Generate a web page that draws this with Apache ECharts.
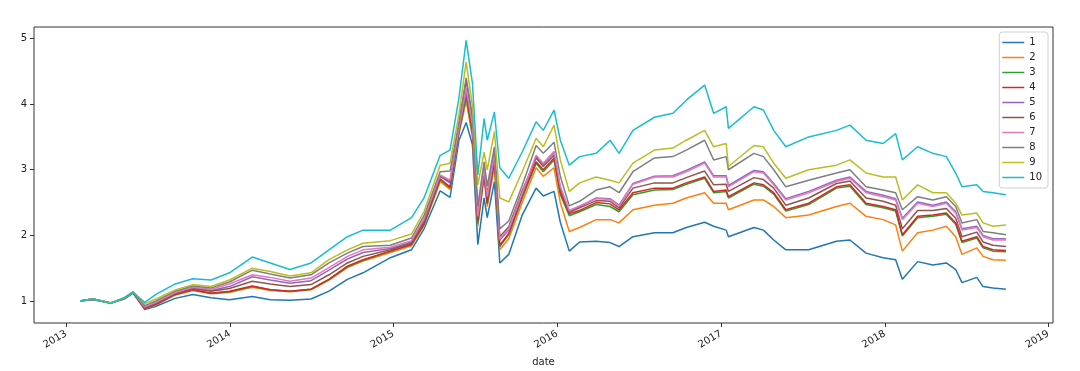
<!DOCTYPE html>
<html>
<head>
<meta charset="utf-8">
<script src="https://cdn.jsdelivr.net/npm/echarts@6/dist/echarts.min.js"></script>
<style>
  html, body { margin: 0; padding: 0; background: #fff; }
  #chart { width: 1080px; height: 371px; }
</style>
</head>
<body>
<div id="chart"></div>
<script>
const dates = [
  "2013-02-01", "2013-03-01", "2013-04-10", "2013-05-10", "2013-05-30", "2013-06-25", "2013-07-20",
  "2013-09-01", "2013-10-10", "2013-11-20", "2013-12-31", "2014-02-20", "2014-04-01", "2014-05-15",
  "2014-07-01", "2014-08-10", "2014-09-20", "2014-10-25", "2014-12-25", "2015-02-10", "2015-03-10",
  "2015-04-15", "2015-05-07", "2015-05-27", "2015-06-12", "2015-06-26", "2015-07-08", "2015-07-22",
  "2015-07-29", "2015-08-14", "2015-08-26", "2015-09-15", "2015-10-15", "2015-11-15", "2015-12-01",
  "2015-12-25", "2016-01-08", "2016-01-28", "2016-02-20", "2016-03-28", "2016-04-28", "2016-05-18",
  "2016-06-18", "2016-08-05", "2016-09-15", "2016-10-15", "2016-11-25", "2016-12-15", "2017-01-12",
  "2017-01-17", "2017-03-15", "2017-04-05", "2017-04-28", "2017-05-25", "2017-07-15", "2017-09-15",
  "2017-10-15", "2017-11-20", "2017-12-28", "2018-01-25", "2018-02-09", "2018-03-15", "2018-04-18",
  "2018-05-18", "2018-06-08", "2018-06-22", "2018-07-25", "2018-08-08", "2018-08-30", "2018-09-28",
];

const s1 = [1, 1.02, 0.97, 1.03, 1.12, 0.87, 0.92, 1.04, 1.10, 1.05, 1.02, 1.07, 1.02, 1.01, 1.03, 1.15, 1.33, 1.43, 1.66, 1.78, 2.10, 2.68, 2.58, 3.45, 3.72, 3.38, 1.86, 2.57, 2.27, 2.82, 1.58, 1.71, 2.31, 2.72, 2.60, 2.67, 2.20, 1.76, 1.90, 1.91, 1.89, 1.83, 1.98, 2.04, 2.04, 2.12, 2.20, 2.14, 2.08, 1.98, 2.12, 2.08, 1.93, 1.78, 1.78, 1.91, 1.93, 1.73, 1.66, 1.63, 1.33, 1.60, 1.55, 1.58, 1.48, 1.28, 1.36, 1.22, 1.20, 1.18];
const s2 = [1, 1.03, 0.97, 1.03, 1.13, 0.89, 0.94, 1.09, 1.16, 1.11, 1.13, 1.21, 1.16, 1.14, 1.17, 1.32, 1.51, 1.61, 1.74, 1.84, 2.15, 2.82, 2.70, 3.55, 4.05, 3.50, 2.14, 2.88, 2.44, 3.05, 1.78, 1.95, 2.50, 3.03, 2.90, 3.03, 2.50, 2.06, 2.12, 2.24, 2.24, 2.19, 2.39, 2.46, 2.49, 2.57, 2.65, 2.49, 2.49, 2.39, 2.54, 2.54, 2.44, 2.27, 2.31, 2.44, 2.49, 2.29, 2.24, 2.16, 1.76, 2.04, 2.08, 2.14, 1.98, 1.71, 1.81, 1.68, 1.63, 1.62];
const s3 = [1, 1.03, 0.97, 1.04, 1.13, 0.89, 0.95, 1.10, 1.17, 1.12, 1.14, 1.22, 1.17, 1.15, 1.18, 1.33, 1.52, 1.62, 1.76, 1.86, 2.17, 2.85, 2.72, 3.58, 4.10, 3.55, 2.18, 2.92, 2.48, 3.12, 1.83, 2.01, 2.57, 3.10, 2.97, 3.15, 2.62, 2.30, 2.36, 2.47, 2.44, 2.36, 2.62, 2.69, 2.70, 2.78, 2.87, 2.65, 2.67, 2.57, 2.78, 2.75, 2.63, 2.37, 2.47, 2.72, 2.75, 2.47, 2.42, 2.37, 1.99, 2.27, 2.29, 2.32, 2.17, 1.89, 1.96, 1.81, 1.76, 1.75];
const s4 = [1, 1.03, 0.97, 1.04, 1.13, 0.89, 0.95, 1.10, 1.17, 1.12, 1.15, 1.23, 1.17, 1.15, 1.18, 1.33, 1.53, 1.63, 1.76, 1.86, 2.18, 2.86, 2.74, 3.60, 4.18, 3.60, 2.22, 2.95, 2.50, 3.15, 1.85, 2.03, 2.60, 3.12, 3.00, 3.18, 2.65, 2.33, 2.38, 2.50, 2.48, 2.39, 2.65, 2.72, 2.72, 2.80, 2.89, 2.67, 2.69, 2.59, 2.80, 2.77, 2.65, 2.39, 2.49, 2.74, 2.77, 2.49, 2.44, 2.39, 2.01, 2.29, 2.31, 2.34, 2.19, 1.91, 1.98, 1.83, 1.78, 1.77];
const s5 = [1, 1.03, 0.97, 1.04, 1.14, 0.90, 0.97, 1.12, 1.20, 1.16, 1.22, 1.37, 1.32, 1.27, 1.31, 1.47, 1.64, 1.74, 1.80, 1.90, 2.23, 2.90, 2.80, 3.63, 4.20, 3.68, 2.28, 3.00, 2.58, 3.22, 1.93, 2.08, 2.64, 3.20, 3.08, 3.26, 2.73, 2.37, 2.44, 2.57, 2.56, 2.46, 2.79, 2.90, 2.91, 2.99, 3.12, 2.91, 2.91, 2.76, 2.99, 2.97, 2.79, 2.56, 2.67, 2.84, 2.89, 2.67, 2.61, 2.56, 2.26, 2.51, 2.46, 2.51, 2.36, 2.10, 2.14, 2.00, 1.95, 1.95];
const s6 = [1, 1.03, 0.97, 1.04, 1.13, 0.90, 0.97, 1.12, 1.19, 1.15, 1.19, 1.30, 1.26, 1.22, 1.25, 1.40, 1.58, 1.68, 1.78, 1.88, 2.21, 2.90, 2.82, 3.67, 4.36, 3.75, 2.35, 3.05, 2.62, 3.28, 1.98, 2.13, 2.68, 3.18, 3.05, 3.22, 2.70, 2.35, 2.42, 2.53, 2.52, 2.42, 2.72, 2.80, 2.80, 2.88, 2.98, 2.77, 2.78, 2.67, 2.88, 2.85, 2.72, 2.46, 2.57, 2.79, 2.83, 2.57, 2.52, 2.46, 2.10, 2.38, 2.38, 2.41, 2.26, 1.98, 2.05, 1.90, 1.85, 1.83];
const s7 = [1, 1.03, 0.97, 1.04, 1.14, 0.91, 0.98, 1.13, 1.21, 1.18, 1.26, 1.40, 1.36, 1.30, 1.35, 1.51, 1.68, 1.78, 1.82, 1.92, 2.25, 2.92, 2.84, 3.65, 4.25, 3.70, 2.30, 3.02, 2.60, 3.25, 1.95, 2.10, 2.65, 3.22, 3.10, 3.28, 2.75, 2.38, 2.45, 2.56, 2.55, 2.45, 2.78, 2.89, 2.89, 2.97, 3.10, 2.89, 2.89, 2.74, 2.97, 2.95, 2.77, 2.54, 2.65, 2.82, 2.87, 2.65, 2.59, 2.54, 2.24, 2.49, 2.44, 2.49, 2.34, 2.08, 2.12, 1.98, 1.93, 1.93];
const s8 = [1, 1.03, 0.97, 1.04, 1.14, 0.93, 1.00, 1.15, 1.23, 1.20, 1.29, 1.47, 1.41, 1.35, 1.40, 1.58, 1.73, 1.83, 1.85, 1.96, 2.30, 2.97, 2.98, 3.72, 4.40, 3.82, 2.45, 3.12, 2.75, 3.35, 2.10, 2.22, 2.76, 3.37, 3.25, 3.42, 2.90, 2.45, 2.52, 2.69, 2.74, 2.65, 2.97, 3.18, 3.20, 3.30, 3.45, 3.15, 3.20, 3.00, 3.25, 3.20, 3.00, 2.74, 2.84, 2.95, 3.00, 2.74, 2.69, 2.65, 2.39, 2.59, 2.54, 2.59, 2.44, 2.19, 2.24, 2.06, 2.04, 2.01];
const s9 = [1, 1.03, 0.97, 1.05, 1.14, 0.96, 1.03, 1.17, 1.25, 1.22, 1.32, 1.50, 1.45, 1.38, 1.43, 1.63, 1.78, 1.88, 1.92, 2.02, 2.36, 3.07, 3.10, 3.85, 4.64, 3.97, 2.77, 3.27, 3.00, 3.58, 2.57, 2.51, 2.97, 3.48, 3.35, 3.68, 3.15, 2.67, 2.80, 2.89, 2.84, 2.80, 3.10, 3.30, 3.33, 3.45, 3.60, 3.35, 3.40, 3.05, 3.37, 3.35, 3.10, 2.87, 3.00, 3.07, 3.15, 2.95, 2.89, 2.89, 2.54, 2.77, 2.65, 2.65, 2.49, 2.31, 2.34, 2.19, 2.14, 2.16];
const s10 = [1, 1.03, 0.96, 1.05, 1.13, 0.98, 1.10, 1.26, 1.34, 1.32, 1.43, 1.67, 1.58, 1.48, 1.58, 1.78, 1.98, 2.08, 2.08, 2.27, 2.57, 3.22, 3.30, 4.10, 4.97, 4.32, 2.92, 3.78, 3.45, 3.88, 3.03, 2.87, 3.27, 3.73, 3.60, 3.91, 3.45, 3.07, 3.20, 3.25, 3.45, 3.25, 3.60, 3.80, 3.86, 4.06, 4.29, 3.86, 3.96, 3.63, 3.96, 3.91, 3.60, 3.35, 3.50, 3.60, 3.68, 3.45, 3.40, 3.55, 3.15, 3.35, 3.25, 3.20, 2.95, 2.74, 2.77, 2.67, 2.65, 2.62];

const seriesNames = ["1", "2", "3", "4", "5", "6", "7", "8", "9", "10"];
const seriesValues = [s1, s2, s3, s4, s5, s6, s7, s8, s9, s10];
const colors = ["#1f77b4", "#ff7f0e", "#2ca02c", "#d62728", "#9467bd", "#8c564b", "#e377c2", "#7f7f7f", "#bcbd22", "#17becf"];

const yearTicks = ["2013", "2014", "2015", "2016", "2017", "2018", "2019"];
const valueTicks = [1, 2, 3, 4, 5];

const font = "DejaVu Sans";
const toTime = (s) => new Date(s + "T00:00:00Z").getTime();
const yearValues = yearTicks.map((y) => toTime(y + "-01-01"));

const chart = echarts.init(document.getElementById("chart"), null, { renderer: "canvas" });

// x axis is a plain value axis over timestamps so the year ticks can be placed exactly
chart.setOption({
  animation: false,
  color: colors,
  textStyle: { fontFamily: font },
  grid: {
    left: 34, right: 27, top: 27, bottom: 48,
    outerBoundsMode: "none",
    show: true, borderColor: "#333", borderWidth: 1, backgroundColor: "#fff",
  },
  legend: {
    orient: "vertical",
    right: 32, top: 32,
    data: seriesNames,
    icon: "rect",
    itemWidth: 22, itemHeight: 1.5, itemGap: 0,
    padding: [3, 6, 3, 3],
    backgroundColor: "#fff",
    borderColor: "#d0d0d0", borderWidth: 1, borderRadius: 3,
    textStyle: { fontFamily: font, fontSize: 10, color: "#222", lineHeight: 15 },
  },
  xAxis: {
    type: "value",
    min: toTime("2012-10-21"),
    max: toTime("2019-01-11"),
    name: "date",
    nameLocation: "middle",
    nameGap: 34,
    nameTextStyle: { fontFamily: font, fontSize: 10, color: "#222" },
    axisLine: { show: false },
    splitLine: { show: false },
    axisTick: { show: true, length: 4, lineStyle: { color: "#333" }, customValues: yearValues },
    axisLabel: {
      rotate: 30, margin: 10, fontSize: 10, color: "#222", fontFamily: font,
      customValues: yearValues,
      formatter: (value) => String(new Date(value).getUTCFullYear()),
    },
  },
  yAxis: {
    type: "value",
    min: 0.665,
    max: 5.175,
    axisLine: { show: false },
    splitLine: { show: false },
    axisTick: { show: true, length: 4, lineStyle: { color: "#333" }, customValues: valueTicks },
    axisLabel: { fontSize: 10, color: "#222", margin: 7, fontFamily: font, customValues: valueTicks },
  },
  series: seriesValues.map((values, i) => ({
    name: seriesNames[i],
    type: "line",
    symbol: "none",
    lineStyle: { width: 1.5, color: colors[i] },
    data: values.map((v, k) => [toTime(dates[k]), v]),
  })),
});
</script>
</body>
</html>
